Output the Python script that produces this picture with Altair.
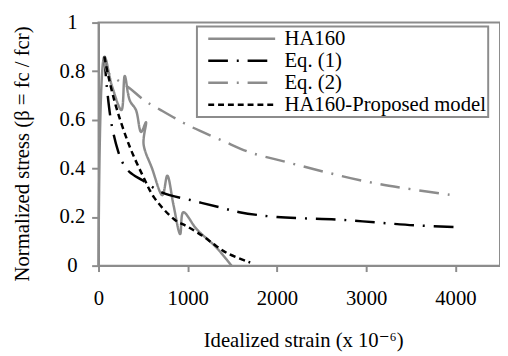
import altair as alt
import pandas as pd

series_names = ["HA160", "Eq. (1)", "Eq. (2)", "HA160-Proposed model"]

ha160_strain = [0, 66, 150, 257, 294, 350, 420, 477, 532, 505, 600, 716, 771, 840, 915, 950, 1100, 1320, 1490]
ha160_stress = [0, 0.86, 0.74, 0.64, 0.78, 0.68, 0.64, 0.55, 0.59, 0.50, 0.40, 0.29, 0.37, 0.25, 0.13, 0.22, 0.15, 0.075, 0.0]

eq1_strain = [66, 92, 147, 220, 275, 349, 496, 716, 1028, 1359, 1579, 2000, 2663, 3104, 3544, 4000]
eq1_stress = [0.86, 0.74, 0.58, 0.47, 0.42, 0.385, 0.35, 0.30, 0.27, 0.24, 0.22, 0.20, 0.19, 0.178, 0.166, 0.159]

eq2_strain = [66, 92, 239, 349, 514, 698, 955, 1139, 1396, 1697, 2119, 2542, 3000, 3441, 4000]
eq2_stress = [0.86, 0.80, 0.757, 0.73, 0.68, 0.64, 0.587, 0.554, 0.513, 0.466, 0.425, 0.385, 0.346, 0.318, 0.288]

model_strain = [66, 110, 200, 349, 496, 624, 850, 1000, 1176, 1322, 1450, 1700]
model_stress = [0.86, 0.78, 0.65, 0.49, 0.37, 0.28, 0.19, 0.16, 0.12, 0.08, 0.05, 0.013]

x_ticks = [0, 1000, 2000, 3000, 4000]
y_ticks = [0, 0.2, 0.4, 0.6, 0.8, 1]

series_colors = ["#8c8c8c", "#000000", "#8c8c8c", "#000000"]
series_dashes = [[1, 0], [20, 9, 2, 9], [20, 9, 2, 9], [6, 4]]

FONT = "Times New Roman, Liberation Serif, DejaVu Serif, serif"

rows = []
for name, xs, ys in zip(series_names,
                        [ha160_strain, eq1_strain, eq2_strain, model_strain],
                        [ha160_stress, eq1_stress, eq2_stress, model_stress]):
    for i, (xv, yv) in enumerate(zip(xs, ys)):
        rows.append({"series": name, "strain": xv, "stress": yv, "idx": i})
df = pd.DataFrame(rows)

legend = alt.Legend(orient="none", legendX=100, legendY=4, title=None)

chart = alt.Chart(df).mark_line(strokeWidth=2.5, interpolate="catmull-rom").encode(
    x=alt.X("strain:Q",
            scale=alt.Scale(domain=[0, 4500], nice=False),
            axis=alt.Axis(values=x_ticks, format="d", title="Idealized strain (x 10⁻⁶)")),
    y=alt.Y("stress:Q",
            scale=alt.Scale(domain=[0, 1], nice=False),
            axis=alt.Axis(values=y_ticks, format="~g", title="Normalized stress (β = fc / fcr)")),
    color=alt.Color("series:N", scale=alt.Scale(domain=series_names, range=series_colors),
                    title=None, legend=legend),
    strokeDash=alt.StrokeDash("series:N", scale=alt.Scale(domain=series_names, range=series_dashes),
                              title=None, legend=legend),
    order="idx:Q",
).properties(
    width=408,
    height=247,
    autosize=alt.AutoSizeParams(type="none"),
    padding={"left": 92, "top": 12, "right": 0, "bottom": 89},
).configure_view(
    stroke="#8c8c8c", strokeWidth=2
).configure_axis(
    grid=False, domainColor="#8c8c8c", domainWidth=2, tickColor="#8c8c8c", tickWidth=2,
    labelFont=FONT, labelFontSize=21, labelColor="black",
    titleFont=FONT, titleFontSize=21, titleFontWeight="normal", titleColor="black",
).configure_axisX(
    tickSize=6, labelPadding=17, labelFlush=False,
    titleX=208, titleY=82.5, titleBaseline="alphabetic", titleAlign="center",
).configure_axisY(
    tickSize=7, labelPadding=20, labelAlign="center",
    titleAngle=270, titleX=-71.5, titleY=133, titleAlign="center", titleBaseline="alphabetic",
).configure_legend(
    symbolType="stroke", symbolSize=4624, symbolStrokeWidth=2.5, clipHeight=21,
    labelFont=FONT, labelFontSize=21, labelColor="black", labelLimit=300,
    padding=2, symbolOffset=8, labelOffset=8, rowPadding=0.3,
    strokeColor="#8c8c8c", strokeWidth=2, fillColor="white",
)

chart.save("out.html", embed_options={"renderer": "svg", "actions": False})
